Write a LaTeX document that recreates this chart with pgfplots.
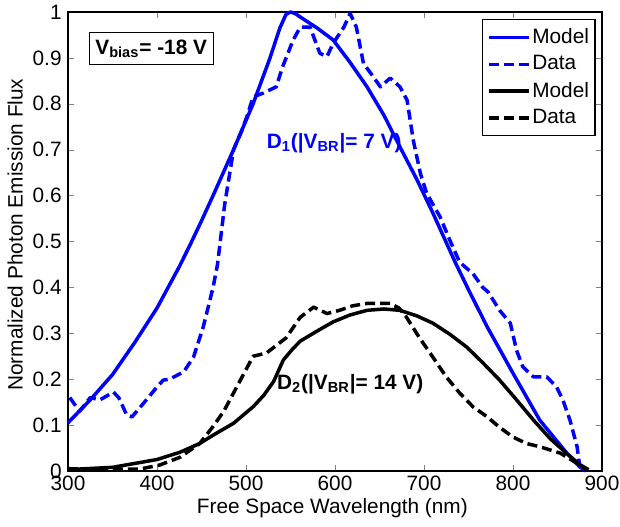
\documentclass[border=0pt]{standalone}
\usepackage{fontspec}
\setmainfont{Liberation Sans}
\usepackage{pgfplots}
\pgfplotsset{compat=1.18}
\definecolor{mblue}{RGB}{0,0,255}
\begin{document}
\fontsize{10.4}{12}\selectfont
\begin{tikzpicture}
\begin{axis}[
  scale only axis, width=267pt, height=229.5pt,
  xmin=300, xmax=900, ymin=0, ymax=1,
  xtick={300,400,...,900},
  ytick={0,0.1,...,1.0},
  yticklabels={0,0.1,0.2,0.3,0.4,0.5,0.6,0.7,0.8,0.9,1},
  tick align=inside, major tick length=3pt,
  /pgf/number format/assume math mode=true,
  ticklabel style={font=\fontsize{10.4}{12}\selectfont},
  xticklabel style={inner sep=1pt, yshift=-1.5pt},
  yticklabel style={inner sep=1pt, xshift=-2pt},
  every axis x label/.style={at={(axis description cs:0.495,-0.081)}, anchor=center},
  every axis y label/.style={at={(axis description cs:-0.099,0.515)}, anchor=center, rotate=90},
  xlabel={Free Space Wavelength (nm)},
  ylabel={Normalized Photon Emission Flux},
  axis line style={black, line width=0.6pt},
  legend style={at={(axis description cs:0.988,0.985)}, anchor=north east, draw=black, line width=0.6pt,
    font=\fontsize{10.4}{11}\selectfont, inner xsep=2pt, inner ysep=2pt, row sep=-0.5pt,
    nodes={inner xsep=1pt, inner ysep=2.5pt}},
  legend cell align=left,
  legend image post style={line width=1.75pt},
  legend image code/.code={\draw[#1] (0pt,0pt) -- (20pt,0pt);},
  clip=false,
]
% Blue model
\addplot[mblue, line width=1.75pt, line join=round] coordinates {
(300,0.105) (325,0.155) (350,0.21) (375,0.28) (400,0.355) (425,0.445) (437,0.492) (450,0.545)
(463,0.6) (486,0.7) (508,0.8) (527,0.9) (538,0.965) (545,0.995) (550,1.0) (555,0.997) (561,0.989)
(580,0.965) (598,0.939) (617,0.89) (636,0.837) (655,0.775) (673,0.706) (692,0.635)
(710,0.562) (735,0.455) (750,0.395) (771,0.314) (800,0.213) (830,0.111) (860,0.04)
(875,0.009) (882,0)
};
\addlegendentry{Model}
% Blue data
\addplot[mblue, line width=1.75pt, dash pattern=on 5pt off 2.5pt, line join=round] coordinates {
(302,0.16) (313,0.13) (325,0.16) (336,0.155) (351,0.172) (357,0.16) (366,0.122) (372,0.118)
(385,0.148) (400,0.183) (407,0.198) (414,0.2) (430,0.216) (441,0.248) (452,0.314) (463,0.4)
(468,0.45) (476,0.58) (486,0.7) (495,0.74) (501,0.772) (508,0.815) (519,0.823) (534,0.837)
(541,0.88) (553,0.939) (561,0.967) (572,0.967) (583,0.91) (591,0.903) (598,0.932) (610,0.967)
(617,0.997) (624,0.967) (632,0.888) (643,0.859) (651,0.837) (662,0.856) (673,0.837) (681,0.808)
(688,0.72) (696,0.648) (703,0.605) (718,0.554) (729,0.503) (740,0.455) (755,0.43) (766,0.4)
(772,0.39) (785,0.35) (797,0.322) (804,0.263) (811,0.227) (823,0.205) (838,0.205) (849,0.183)
(856,0.155) (864,0.111) (872,0.053) (875,0.01)
};
\addlegendentry{Data}
% Black model
\addplot[black, line width=1.75pt, line join=round] coordinates {
(300,0.003) (350,0.008) (400,0.025) (426,0.041) (448,0.06) (463,0.078) (486,0.104)
(508,0.14) (520,0.165) (531,0.195) (542,0.242) (552,0.265) (561,0.283) (580,0.305)
(598,0.325) (617,0.34) (636,0.35) (655,0.353) (673,0.35) (692,0.338) (710,0.322)
(729,0.298) (748,0.27) (766,0.236) (785,0.198) (804,0.155) (823,0.111) (842,0.07)
(860,0.039) (875,0.014) (885,0.003)
};
\addlegendentry{Model}
% Black data
\addplot[black, line width=1.75pt, dash pattern=on 5pt off 2.5pt, line join=round] coordinates {
(300,0.005) (340,0.004) (380,0.004) (403,0.013) (426,0.03) (448,0.06) (463,0.097)
(475,0.13) (486,0.17) (497,0.21) (508,0.25) (523,0.257) (545,0.29) (561,0.335)
(576,0.357) (591,0.343) (605,0.35) (620,0.36) (636,0.365) (662,0.365) (672,0.355)
(680,0.336) (695,0.29) (710,0.248) (725,0.205) (740,0.17) (755,0.14) (771,0.118)
(785,0.095) (800,0.074) (815,0.06) (830,0.053) (853,0.039) (865,0.025) (875,0.013) (882,0.002)
};
\addlegendentry{Data}
\node[draw=black, line width=0.6pt, fill=white, inner sep=0pt, minimum width=62pt, minimum height=16pt,
  font=\bfseries\fontsize{10.4}{12}\selectfont]
  at (axis cs:393.5,0.92) {V\textsubscript{bias}= -18 V\hspace{6pt}};
\node[text=mblue, font=\bfseries\fontsize{10.4}{12}\selectfont]
  at (axis cs:599,0.715) {D\textsubscript{1}(|V\textsubscript{BR}|= 7 V)};
\node[text=black, font=\bfseries\fontsize{10.4}{12}\selectfont]
  at (axis cs:617,0.19) {D\textsubscript{2}(|V\textsubscript{BR}|= 14 V)};
\end{axis}
\pgfresetboundingbox
\path[use as bounding box] (-34pt,-27.5pt) rectangle (276pt,235.5pt);
\end{tikzpicture}
\end{document}
